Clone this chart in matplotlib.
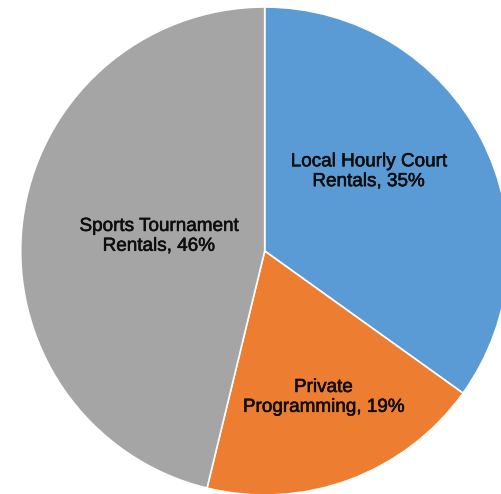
import matplotlib
matplotlib.use('Agg')
import matplotlib.pyplot as plt
import matplotlib.patheffects as pe

# Slice data (clockwise from 12 o'clock)
labels = ['Local Hourly Court\nRentals, 35%', 'Private\nProgramming, 19%', 'Sports Tournament\nRentals, 46%']
shares = [34.9, 18.9, 46.2]
colors = ['#5B9BD5', '#ED7D31', '#A5A5A5']

# label placement in data units (pie radius = 1)
label_pos = [(0.425, 0.325), (0.24, -0.60), (-0.435, 0.06)]

W, H = 502, 494
cx, cy, R = 264.7, 251, 244

fig = plt.figure(figsize=(W / 100, H / 100), dpi=100)
ax = fig.add_axes([0, 0, 1, 1])
ax.pie(shares, colors=colors, startangle=90, counterclock=False, radius=1,
       wedgeprops=dict(edgecolor='white', linewidth=1.2))
ax.set_aspect('auto')
ax.set_xlim(-cx / R, (W - cx) / R)
ax.set_ylim(-(H - cy) / R, cy / R)
ax.axis('off')

for txt, (x, y) in zip(labels, label_pos):
    ax.text(x, y, txt, ha='center', va='center', fontsize=13.6,
            family='Liberation Sans', color='#0d0d0d', linespacing=1.22,
            path_effects=[pe.withStroke(linewidth=0.4, foreground='#0d0d0d')])

fig.savefig('out.png', dpi=100)
